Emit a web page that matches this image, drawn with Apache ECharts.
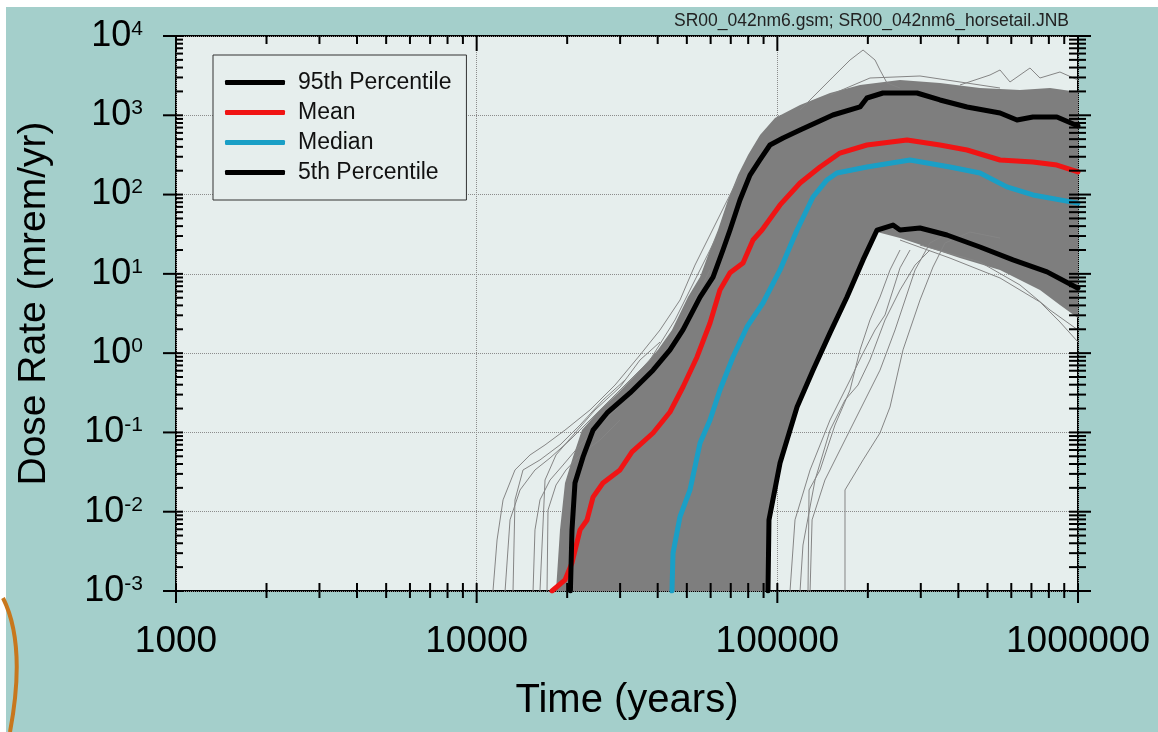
<!DOCTYPE html>
<html>
<head>
<meta charset="utf-8">
<script src="https://cdn.jsdelivr.net/npm/echarts@6/dist/echarts.min.js"></script>
<style>
  html, body { margin: 0; padding: 0; background: #a4cfcb; }
  #chart { width: 1158px; height: 732px; }
</style>
</head>
<body>
<div id="chart"></div>
<script>
// axis ticks (years / mrem per yr)
var xMajor = [1000, 10000, 100000, 1000000];
var yMajor = [0.001, 0.01, 0.1, 1, 10, 100, 1000, 10000];

// statistics: [years, dose]
var p95 = [[20500,0.001],[20750,0.0059],[21230,0.023],[22580,0.049],[24380,0.107],[27140,0.176],[32360,0.315],[38600,0.61],[43950,1.10],[48540,1.96],[55330,5.1],[61120,9.1],[65940,20.0],[69600,35.7],[75100,85.5],[81100,176],[87500,273],[94500,422],[104500,517],[119000,652],[153000,1009],[188400,1273],[198600,1652],[224500,1910],[291400,1910],[347500,1560],[427500,1273],[550500,1069],[626700,873],[708000,952],[851000,952],[1000000,733]];
var mean = [[17800,0.001],[19670,0.00138],[20750,0.00226],[22070,0.0059],[23290,0.00787],[24380,0.0153],[26300,0.023],[29980,0.0336],[32860,0.0567],[38600,0.0984],[43950,0.181],[48540,0.374],[54070,0.895],[59720,2.40],[64430,6.26],[69600,10.3],[76900,13.7],[83000,26.7],[88900,35.7],[102100,74],[119000,140],[138700,223],[161500,334],[198600,422],[270000,488],[347500,422],[427500,365],[550500,273],[708000,258],[851000,236],[1000000,193]];
var median = [[44630,0.001],[44980,0.0030],[47430,0.0086],[51230,0.0188],[55330,0.0736],[59720,0.1435],[64430,0.343],[71200,0.895],[79250,2.14],[89550,4.29],[102100,11.2],[116300,35.7],[131400,93.2],[146300,153],[157800,187],[198600,223],[276200,273],[375000,223],[472000,187],[580000,125],[708000,98.8],[1000000,78]];
var p05 = [[93100,0.001],[93800,0.00787],[102100,0.0412],[116300,0.209],[131400,0.61],[149700,1.80],[170500,5.1],[192800,15.0],[214600,35.7],[242500,41.3],[255800,35.7],[298200,37.9],[366600,30.9],[472000,21.8],[608000,15.0],[789000,10.6],[1000000,6.6]];

// dense part of the horsetail (outline of the grey mass)
var bandTop = [[18360,0.001],[18930,0.0059],[19670,0.023],[20910,0.049],[22400,0.107],[25130,0.176],[29520,0.315],[34940,0.61],[40100,1.10],[44630,1.96],[50450,5.1],[55330,9.1],[59700,20.0],[63470,35.7],[68520,85.5],[73990,176],[79890,316],[87600,564],[98220,925],[119000,1349],[149700,1910],[188400,2410],[255900,2786],[347500,2555],[472000,2208],[641300,2084],[807000,2208],[1000000,1967]];
var bandBottom = [[93100,0.001],[93800,0.0079],[102100,0.0412],[116300,0.209],[131400,0.61],[149700,1.80],[170500,5.1],[192800,15.0],[214600,33.7],[255900,28.3],[321900,21.2],[405000,15.8],[550400,11.2],[747400,6.26],[871000,4.05],[1000000,2.77]];

// single realisations sticking out of the mass
var runA = [[11330,0.001],[11690,0.0044],[12240,0.0141],[13410,0.0336],[15050,0.052],[16880,0.0695],[19670,0.107],[23820,0.192],[28850,0.396],[34940,0.948],[40720,1.96],[47460,4.68],[53230,12.9],[59700,30.9],[66950,74],[75130,176]];
var runB = [[12430,0.001],[12910,0.0079],[13940,0.0188],[15630,0.0336],[17540,0.0476],[20440,0.0803],[24750,0.166],[29980,0.343],[37720,0.82],[45670,2.62],[53230,8.37],[62040,26.7]];
var runC = [[15400,0.001],[15630,0.0059],[16240,0.0141],[17540,0.0251],[19380,0.0388],[22070,0.0695],[25720,0.124],[31140,0.256],[37720,0.531],[43950,1.27],[51230,3.50],[59700,11.2]];
var runD = [[17140,0.001],[17270,0.0105],[18360,0.0217],[19820,0.0336],[22070,0.052],[25720,0.0803],[29980,0.1435]];
var runD2 = [[13210,0.001],[13410,0.0141],[14260,0.0336],[16240,0.045],[18930,0.0695],[22070,0.124],[26300,0.256],[31140,0.458]];
var runD3 = [[16240,0.001],[16880,0.0251],[18360,0.052],[21230,0.0984],[24750,0.192],[29980,0.374],[34940,0.82],[40720,1.38]];
var runE = [[167900,0.001],[167900,0.0188],[192800,0.045],[219500,0.0984],[237000,0.209],[261800,1.10],[298200,4.68],[329400,12.2],[361100,24.5],[437300,33.7],[550400,28.3]];
var runF = [[128500,0.001],[130500,0.0079],[144000,0.0251],[167900,0.0803],[195700,0.256],[219500,0.61],[246300,1.96],[265900,4.68],[287100,11.2],[321900,24.5],[375200,33.7]];
var runG = [[126500,0.001],[127500,0.0188],[138700,0.0336],[155500,0.124],[174500,0.343],[188400,1.10],[203300,2.62],[219500,5.1],[237000,11.2],[255900,20.0]];
var runH = [[110200,0.001],[114500,0.0079],[128500,0.0336],[149700,0.1435],[174500,0.458],[191300,0.948],[211300,1.96],[228100,3.03],[242500,6.26],[255900,11.9],[276300,20.0]];
var runI = [[119000,0.001],[121700,0.0038],[133500,0.0251],[149700,0.107],[167900,0.256],[185500,0.396],[203300,0.82],[228100,2.62],[255900,6.26],[287100,12.9],[321900,20.0]];
var runJ = [[255900,26.7],[375200,15.8],[550400,8.87],[747400,4.42],[871000,2.47],[1000000,1.38]];
var runK = [[298200,23.1],[472000,14.1],[641300,7.24],[807000,3.50],[1000000,1.96]];
var runL = [[119000,1167],[153100,3040],[174500,4982],[192800,6655],[211300,4982],[219500,3726],[231600,2555],[255900,2208]];
var runM = [[405000,2410],[509700,3222],[550400,3726],[594000,2630],[692300,3948],[747400,2953],[871000,3515],[1000000,2786]];
var runN = [[149700,1802],[203300,2953],[298200,3130],[405000,2630],[550400,2208]];
var greyRuns = [runA, runB, runC, runD, runD2, runD3, runE, runF, runG, runH, runI, runJ, runK, runL, runM, runN];

var FONT = 'Liberation Sans';
var PLOT_BG = '#e6eeed';
var GREY = '#7e7e7e';

// minor ticks: 2..9 inside each decade
function minors(majors) {
  var out = [];
  for (var i = 0; i < majors.length - 1; i++) {
    for (var m = 2; m <= 9; m++) out.push(majors[i] * m);
  }
  return out;
}
var xMinor = minors(xMajor);
var yMinor = minors(yMajor);

function renderBand(params, api) {
  var pts = [];
  bandTop.forEach(function (p) { pts.push(api.coord(p)); });
  bandBottom.slice().reverse().forEach(function (p) { pts.push(api.coord(p)); });
  return { type: 'polygon', shape: { points: pts }, style: { fill: GREY } };
}

function renderTicks(params, api) {
  var kids = [];
  var bl = api.coord([xMajor[0], yMajor[0]]);
  var tr = api.coord([xMajor[xMajor.length - 1], yMajor[yMajor.length - 1]]);
  var x0 = bl[0], y0 = bl[1], x1 = tr[0], y1 = tr[1];
  function seg(a, b, c, d) {
    kids.push({ type: 'line', shape: { x1: a, y1: b, x2: c, y2: d }, style: { stroke: '#000', lineWidth: 2 } });
  }
  xMajor.forEach(function (v) {
    var px = api.coord([v, yMajor[0]])[0];
    seg(px, y0 - 8, px, y0 + 12);
    seg(px, y1, px, y1 + 15);
  });
  xMinor.forEach(function (v) {
    var px = api.coord([v, yMajor[0]])[0];
    seg(px, y0 - 8, px, y0 + 7);
    seg(px, y1, px, y1 + 8);
  });
  yMajor.forEach(function (v) {
    var py = api.coord([xMajor[0], v])[1];
    seg(x0 - 13, py, x0 + 7, py);
    seg(x1 - 9, py, x1 + 13, py);
  });
  yMinor.forEach(function (v) {
    var py = api.coord([xMajor[0], v])[1];
    seg(x0, py, x0 + 7, py);
    seg(x1 - 9, py, x1 + 8, py);
  });
  return { type: 'group', children: kids };
}

var chart = echarts.init(document.getElementById('chart'));

var series = [];
series.push({
  type: 'custom', name: 'band', renderItem: renderBand, data: [[1000, 1]],
  silent: true, z: 1
});
greyRuns.forEach(function (run, i) {
  series.push({
    type: 'line', name: 'run' + i, data: run, showSymbol: false, silent: true,
    lineStyle: { color: '#858585', width: 1 }, itemStyle: { color: GREY }, z: 2
  });
});
function statLine(name, data, color) {
  return {
    type: 'line', name: name, data: data, showSymbol: false, silent: true,
    lineStyle: { color: color, width: 5, cap: 'round', join: 'round' },
    itemStyle: { color: color }, z: 3
  };
}
series.push(statLine('5th Percentile', p05, '#000000'));
series.push(statLine('Median', median, '#1a9fc6'));
series.push(statLine('Mean', mean, '#f01414'));
series.push(statLine('95th Percentile', p95, '#000000'));
series.push({
  type: 'custom', name: 'ticks', renderItem: renderTicks, data: [[1000, 1]],
  clip: false, silent: true, z: 10
});

chart.setOption({
  backgroundColor: '#a4cfcb',
  animation: false,
  title: {
    text: 'SR00_042nm6.gsm; SR00_042nm6_horsetail.JNB',
    right: 84, top: 7,
    textStyle: { fontFamily: FONT, fontSize: 17.5, fontWeight: 'normal', color: '#222' }
  },
  graphic: [
    { type: 'rect', shape: { x: 0, y: 0, width: 1158, height: 7 }, style: { fill: '#fff' }, silent: true },
    { type: 'rect', shape: { x: 0, y: 0, width: 6, height: 732 }, style: { fill: '#fff' }, silent: true },
    { type: 'bezierCurve', shape: { x1: 3, y1: 598, cpx1: 24, cpy1: 640, cpx2: 16, cpy2: 700, x2: 10, y2: 732 },
      style: { stroke: '#c8771d', lineWidth: 4, fill: null }, silent: true }
  ],
  grid: {
    left: 176, right: 80, top: 36, bottom: 141,
    show: true, backgroundColor: PLOT_BG, borderColor: '#000', borderWidth: 2
  },
  legend: {
    left: 213, top: 55, orient: 'vertical',
    data: ['95th Percentile', 'Mean', 'Median', '5th Percentile'],
    icon: 'roundRect', itemWidth: 60, itemHeight: 5, itemGap: 7,
    padding: [16, 15, 16, 12],
    backgroundColor: PLOT_BG, borderColor: '#333', borderWidth: 1,
    textStyle: { fontFamily: FONT, fontSize: 23, color: '#111', padding: [0, 0, 0, 8] }
  },
  xAxis: {
    type: 'log', logBase: 10, min: 1000, max: 1000000, splitNumber: 3,
    name: 'Time (years)', nameLocation: 'middle', nameGap: 90,
    nameTextStyle: { fontFamily: FONT, fontSize: 40, color: '#000' },
    axisLine: { show: false }, axisTick: { show: false },
    axisLabel: {
      margin: 32, fontFamily: FONT, fontSize: 37, color: '#000',
      formatter: function (v) { return String(Math.round(v)); }
    },
    splitLine: { show: true, lineStyle: { color: '#8c8c8c', type: 'dotted', width: 1 } }
  },
  yAxis: {
    type: 'log', logBase: 10, min: 0.001, max: 10000, splitNumber: 7,
    name: 'Dose Rate (mrem/yr)', nameLocation: 'middle', nameGap: 122,
    nameTextStyle: { fontFamily: FONT, fontSize: 39, color: '#000', padding: [0, 0, 0, 20] },
    axisLine: { show: false }, axisTick: { show: false },
    axisLabel: {
      margin: 33, color: '#000',
      formatter: function (v) {
        var e = Math.round(Math.log(v) / Math.LN10);
        return '{b|10}{s|' + e + '}';
      },
      rich: {
        b: { fontFamily: FONT, fontSize: 36, color: '#000' },
        s: { fontFamily: FONT, fontSize: 21, color: '#000', padding: [0, 0, 14, 0] }
      }
    },
    splitLine: { show: true, lineStyle: { color: '#8c8c8c', type: 'dotted', width: 1 } }
  },
  series: series
});
</script>
</body>
</html>
